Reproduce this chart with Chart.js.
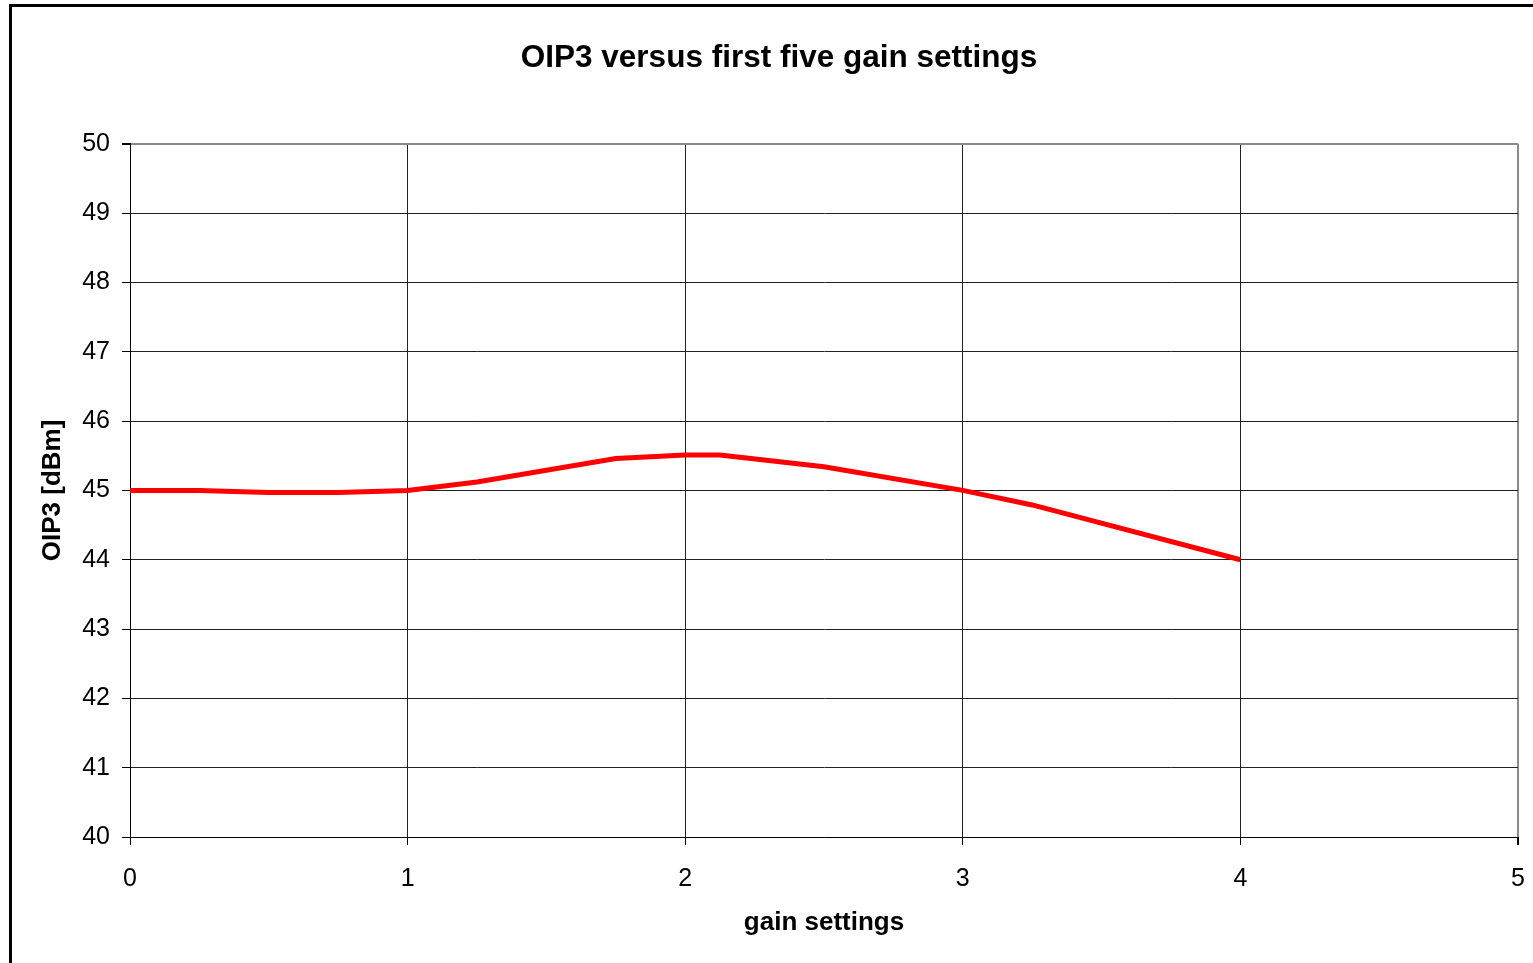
<!DOCTYPE html>
<html>
<head>
<meta charset="utf-8">
<script src="https://cdn.jsdelivr.net/npm/chart.js@4"></script>
<style>
    body { margin: 0; background: #fff; overflow: hidden; }
    #frame {
        position: absolute; left: 9px; top: 4px;
        width: 2000px; height: 2000px;
        border: 3px solid #000;
    }
    #wrap { position: absolute; left: 0; top: 0; width: 1533px; height: 963px; }
</style>
</head>
<body>
<div id="frame"></div>
<div id="wrap"><canvas id="oipChart"></canvas></div>
<script>
// gain setting (x) and OIP3 in dBm (y)
const gainSettings = [0, 0.25, 0.5, 0.75, 1, 1.25, 1.75, 2, 2.125, 2.5, 3, 3.25, 4];
const oip3Values = [45, 45, 44.97, 44.97, 45, 45.12, 45.46, 45.51, 45.51, 45.34, 45.0, 44.79, 44.0];

const xTicks = [0, 1, 2, 3, 4, 5];
const yTicks = [40, 41, 42, 43, 44, 45, 46, 47, 48, 49, 50];

const fontFamily = "'Liberation Sans', Arial, sans-serif";

const points = gainSettings.map((g, i) => ({ x: g, y: oip3Values[i] }));

function edgeColor(max) {
    return ctx => ctx.tick && ctx.tick.value === max ? "#8a8a8a" : "#222";
}
function edgeWidth(max) {
    return ctx => ctx.tick && ctx.tick.value === max ? 2 : 1;
}

const oipChart = new Chart(
    document.getElementById("oipChart"),
    {
        type: "scatter",
        data: {
            datasets: [{
                label: "OIP3",
                data: points,
                showLine: true,
                borderColor: "#ff0000",
                borderWidth: 5,
                pointRadius: 0,
                tension: 0
            }]
        },
        options: {
            responsive: true,
            maintainAspectRatio: false,
            animation: false,
            layout: { padding: { left: 40, right: 15, top: 0, bottom: 0 } },
            plugins: {
                legend: { display: false },
                tooltip: { enabled: false },
                title: {
                    display: true,
                    text: "OIP3 versus first five gain settings",
                    color: "#000",
                    font: { family: fontFamily, size: 31.5, weight: "bold" },
                    padding: { top: 39, bottom: 67 }
                }
            },
            scales: {
                x: {
                    type: "linear",
                    min: 0,
                    max: 5,
                    afterBuildTicks: scale => {
                        scale.ticks = xTicks.map(v => ({ value: v }));
                    },
                    afterFit: scale => {
                        scale.height = 126;
                        scale.paddingLeft = 0;
                        scale.paddingRight = 0;
                    },
                    ticks: {
                        color: "#000",
                        padding: 19,
                        font: { family: fontFamily, size: 25 }
                    },
                    grid: {
                        color: edgeColor(5),
                        lineWidth: edgeWidth(5),
                        tickColor: "#000",
                        tickLength: 8
                    },
                    border: { color: "#000", width: 1 },
                    title: {
                        display: true,
                        text: "gain settings",
                        color: "#000",
                        font: { family: fontFamily, size: 26, weight: "bold" },
                        padding: { top: 0, bottom: 25 }
                    }
                },
                y: {
                    type: "linear",
                    min: 40,
                    max: 50,
                    afterBuildTicks: scale => {
                        scale.ticks = yTicks.map(v => ({ value: v }));
                    },
                    afterFit: scale => { scale.width = 90; },
                    ticks: {
                        color: "#000",
                        padding: 12,
                        font: { family: fontFamily, size: 25 }
                    },
                    grid: {
                        color: edgeColor(50),
                        lineWidth: edgeWidth(50),
                        tickColor: "#000",
                        tickLength: 8
                    },
                    border: { color: "#000", width: 1 },
                    title: {
                        display: true,
                        text: "OIP3 [dBm]",
                        color: "#000",
                        font: { family: fontFamily, size: 26, weight: "bold", lineHeight: 1 },
                        padding: { top: 0, bottom: 0 }
                    }
                }
            }
        }
    }
);
</script>
</body>
</html>
